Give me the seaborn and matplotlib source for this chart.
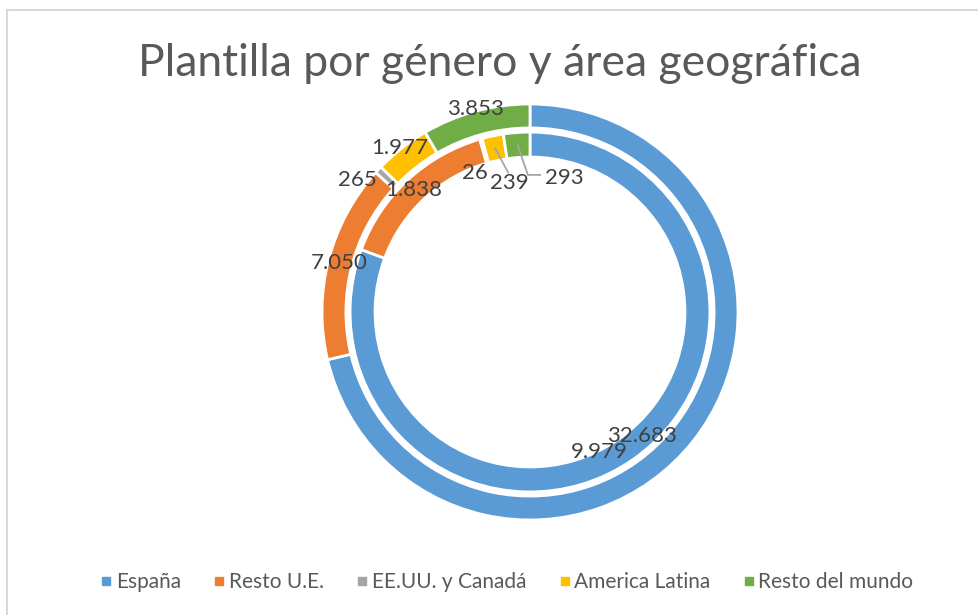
import matplotlib.pyplot as plt
import seaborn as sns
import numpy as np
from matplotlib.lines import Line2D

# data
regions = ['España', 'Resto U.E.', 'EE.UU. y Canadá', 'America Latina', 'Resto del mundo']
outer_vals = [32683, 7050, 265, 1977, 3853]
inner_vals = [9979, 1838, 26, 239, 293]
outer_labels = ['32.683', '7.050', '265', '1.977', '3.853']
inner_labels = ['9.979', '1.838', '26', '239', '293']
colors = ['#5B9BD5', '#ED7D31', '#A5A5A5', '#FFC000', '#70AD47']

sns.set_theme(style='white')
plt.rcParams['font.family'] = ['Lato', 'DejaVu Sans']

fig = plt.figure(figsize=(9.79, 6.15), dpi=100)
W, H = 979, 615
cx, cy, R = 530, 312, 208
ax = fig.add_axes([(cx - R) / W, (H - cy - R) / H, 2 * R / W, 2 * R / H])

wedge_kw = dict(edgecolor='white', linewidth=2)
ax.pie(outer_vals, radius=1.0, colors=colors, startangle=90, counterclock=False,
       wedgeprops=dict(width=0.115, **wedge_kw))
ax.pie(inner_vals, radius=0.865, colors=colors, startangle=90, counterclock=False,
       wedgeprops=dict(width=0.12, **wedge_kw))
ax.set_xlim(-1, 1)
ax.set_ylim(-1, 1)
ax.set_aspect('equal')
ax.axis('off')

# label placements (pie units), as Excel left them
outer_pos = [(0.538, -0.596), (-0.915, 0.236), (-0.83, 0.635), (-0.625, 0.788), (-0.264, 0.977)]
inner_pos = [(0.332, -0.673), (-0.56, 0.587), (-0.265, 0.668), (-0.101, 0.62), (0.163, 0.644)]
txt = dict(fontsize=16, color='#404040', ha='center', va='center')
for (x, y), lab in zip(outer_pos, outer_labels):
    ax.text(x, y, lab, **txt)
for (x, y), lab in zip(inner_pos, inner_labels):
    ax.text(x, y, lab, **txt)

# leader lines from the small inner wedges
def mid_point(vals, i, r):
    tot = sum(vals)
    frac = (sum(vals[:i]) + vals[i] / 2) / tot
    a = np.deg2rad(frac * 360)
    return r * np.sin(a), r * np.cos(a)

mr = 0.805
x0, y0 = mid_point(inner_vals, 3, mr)
ax.plot([x0, -0.105], [y0, 0.67], color='#A5A5A5', lw=1.3)
x0, y0 = mid_point(inner_vals, 4, mr)
ax.plot([x0, -0.01, 0.05], [y0, 0.659, 0.659], color='#A5A5A5', lw=1.3)

fig.text(0.51, 0.897, 'Plantilla por género y área geográfica', fontsize=32,
         color='#595959', ha='center', va='center')

handles = [Line2D([], [], marker='s', linestyle='', markersize=6, color=c) for c in colors]
fig.legend(handles, regions, loc='center', bbox_to_anchor=(0.517, 0.053), ncol=5,
           frameon=False, fontsize=15, labelcolor='#595959', handletextpad=0.1,
           columnspacing=1.5, handlelength=0.7)

# chart area frame (top and left edges visible)
fig.add_artist(Line2D([7 / W, 1], [1 - 9.5 / H, 1 - 9.5 / H], color='#D9D9D9', lw=1.5))
fig.add_artist(Line2D([7 / W, 7 / W], [0, 1 - 9.5 / H], color='#D9D9D9', lw=1.5))

fig.savefig('out.png', dpi=100, facecolor='white')
